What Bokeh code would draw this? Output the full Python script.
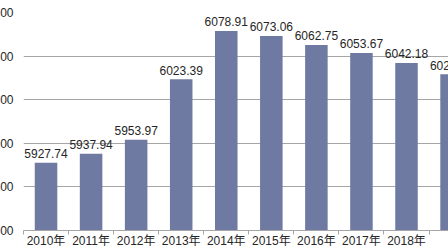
from bokeh.plotting import figure
from bokeh.models import Range1d, FixedTicker, PrintfTickFormatter, ColumnDataSource
from bokeh.core.properties import value
from bokeh.embed import file_html
from bokeh.resources import INLINE

# ---- data ----
years = ["2010年", "2011年", "2012年", "2013年", "2014年",
         "2015年", "2016年", "2017年", "2018年", "2019年"]
values = [5927.74, 5937.94, 5953.97, 6023.39, 6078.91,
          6073.06, 6062.75, 6053.67, 6042.18, 6029.05]
y_ticks = [5850, 5900, 5950, 6000, 6050, 6100]

FONT = "Liberation Sans, Noto Sans CJK SC"
BAR = "#6f7aa3"
GRID = "#a6a6a6"
CROP = 33  # the reference image is cropped on the left

idx = list(range(len(years)))
src = ColumnDataSource(dict(x=idx, top=values, label=[f"{v:.2f}" for v in values]))

p = figure(width=448 + CROP, height=250, output_backend="svg", toolbar_location=None,
           x_range=Range1d(-0.5, 8.932), y_range=Range1d(y_ticks[0], y_ticks[-1]),
           min_border_top=12, min_border_bottom=0, min_border_right=0, min_border_left=0)
p.styles = {"margin-left": f"-{CROP}px"}
p.outline_line_color = None
p.background_fill_color = "white"

p.vbar(x="x", top="top", bottom=y_ticks[0], width=0.5, source=src,
       fill_color=BAR, line_color=None)
p.text(x="x", y="top", text="label", source=src, text_align="center",
       text_baseline="alphabetic", y_offset=-9, text_font=value(FONT),
       text_font_size="12px", text_color="#262626")

# x axis
p.xaxis.ticker = FixedTicker(ticks=idx, minor_ticks=[i - 0.5 for i in range(len(years) + 1)])
p.xaxis.major_label_overrides = {i: y for i, y in zip(idx, years)}
p.xaxis.major_tick_out = 0
p.xaxis.major_tick_in = 0
p.xaxis.minor_tick_out = 4
p.xaxis.minor_tick_in = 0
p.xaxis.minor_tick_line_color = GRID
p.xaxis.axis_line_color = GRID
p.xaxis.major_label_standoff = -1
p.xaxis.major_label_text_font = FONT
p.xaxis.major_label_text_font_size = "12px"
p.xaxis.major_label_text_color = "#262626"
p.xgrid.grid_line_color = None

# y axis
p.yaxis.ticker = FixedTicker(ticks=y_ticks)
p.yaxis.formatter = PrintfTickFormatter(format="%.2f")
p.yaxis.axis_line_color = None
p.yaxis.major_tick_out = 0
p.yaxis.major_tick_in = 0
p.yaxis.minor_tick_line_color = None
p.yaxis.major_label_standoff = 10
p.yaxis.major_label_text_font = FONT
p.yaxis.major_label_text_font_size = "12px"
p.yaxis.major_label_text_color = "#262626"
p.ygrid.grid_line_color = GRID
p.ygrid.grid_line_width = 1

open("out.html", "w").write(file_html(p, INLINE))
